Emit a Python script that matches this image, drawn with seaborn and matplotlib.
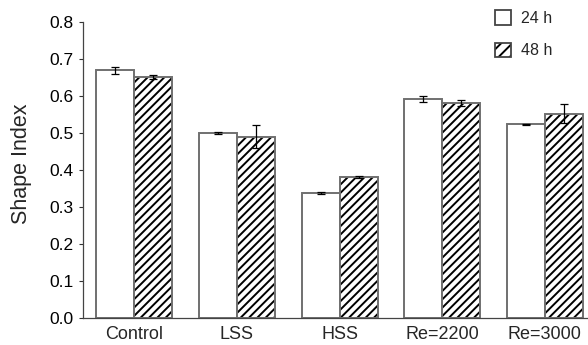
import matplotlib
matplotlib.use("Agg")
import matplotlib.pyplot as plt
from matplotlib.colors import to_rgba
import seaborn as sns
import pandas as pd

categories = ["Control", "LSS", "HSS", "Re=2200", "Re=3000"]
times = ["24 h", "48 h"]
values_24h = [0.669, 0.500, 0.337, 0.592, 0.523]
values_48h = [0.651, 0.490, 0.381, 0.580, 0.552]
err_24h = [0.010, 0.002, 0.002, 0.008, 0.002]
err_48h = [0.005, 0.031, 0.002, 0.008, 0.026]
y_ticks = [0.0, 0.1, 0.2, 0.3, 0.4, 0.5, 0.6, 0.7, 0.8]

df = pd.DataFrame({
    "Condition": categories * 2,
    "Time": [times[0]] * len(categories) + [times[1]] * len(categories),
    "Shape Index": values_24h + values_48h,
})

sns.set_style("ticks")
plt.rcParams["font.family"] = ["Liberation Sans", "DejaVu Sans"]
plt.rcParams["hatch.linewidth"] = 1.4

fig = plt.figure(figsize=(5.88, 3.45), dpi=100)
ax = fig.add_axes([0.141, 0.079, 0.859, 0.857])

sns.barplot(data=df, x="Condition", y="Shape Index", hue="Time",
            hue_order=times, order=categories, palette=["white", "white"],
            edgecolor="#707070", linewidth=1.4, width=0.74, errorbar=None,
            ax=ax)

hatches = ["", "////"]
errs = [err_24h, err_48h]
black = to_rgba("black")
for cont, h, e in zip(ax.containers, hatches, errs):
    xs, ys = [], []
    for bar in cont:
        bar.set_hatch(h)
        bar._hatch_color = black  # black stripes, grey outline
        xs.append(bar.get_x() + bar.get_width() / 2)
        ys.append(bar.get_height())
    ax.errorbar(xs, ys, yerr=e, fmt="none", ecolor="black",
                elinewidth=0.9, capsize=3, capthick=0.9, zorder=5)

handles = []
for h in ["", "///"]:
    r = plt.Rectangle((0, 0), 1, 1, facecolor="white", edgecolor="#444444",
                      linewidth=1.3, hatch=h)
    r._hatch_color = black
    handles.append(r)
ax.legend(handles, times, loc="upper right", bbox_to_anchor=(0.93, 1.04),
          frameon=False, fontsize=11.5, handlelength=1.0, handleheight=1.0,
          handletextpad=0.65, labelspacing=1.05, borderpad=0, borderaxespad=0)

ax.set_xlim(-0.5, 4.42)
ax.set_ylim(0, 0.8)
ax.set_yticks(y_ticks)
ax.set_yticklabels([f"{v:.1f}" for v in y_ticks])
ax.set_xlabel("")
ax.set_ylabel("Shape Index", fontsize=15.5)
ax.yaxis.set_label_coords(-0.101, 0.521)
ax.tick_params(axis="y", labelsize=12.5, length=3, width=0.8, colors="#333333",
               labelcolor="black")
ax.tick_params(axis="x", labelsize=13, length=0, pad=6)
sns.despine(ax=ax, top=True, right=True)
for s in ["left", "bottom"]:
    ax.spines[s].set_color("#444444")
    ax.spines[s].set_linewidth(0.9)

fig.savefig("out.png", dpi=100)
